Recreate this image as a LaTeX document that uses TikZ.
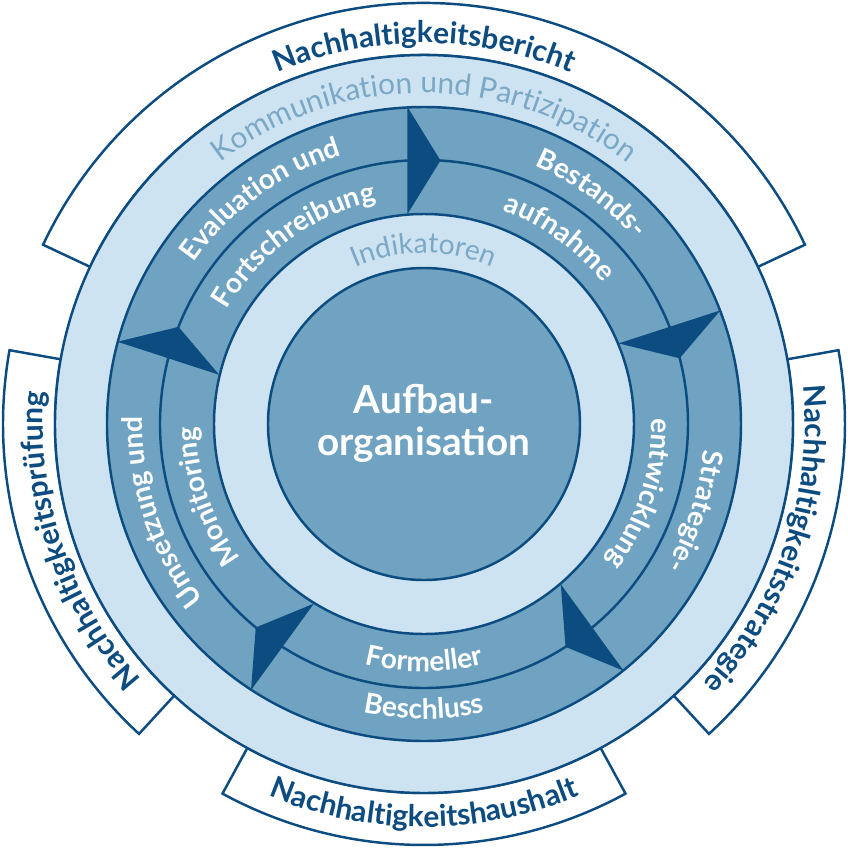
\documentclass[tikz,border=0pt]{standalone}
\usepackage{fontspec}
\setmainfont{Lato}
\usetikzlibrary{decorations.text}
\definecolor{ringblue}{HTML}{6FA3C1}
\definecolor{paleblue}{HTML}{CDE3F1}
\definecolor{deepblue}{HTML}{0D4C80}
\definecolor{greyblue}{HTML}{7BA8C6}
\newcommand\tablabel{\fontsize{17}{20}\selectfont\bfseries\color{deepblue}}
\newcommand\ringlabel{\fontsize{17}{20}\selectfont\color{greyblue}}
\newcommand\steplabel{\fontsize{16}{18}\selectfont\bfseries\color{white}}
\begin{document}
\begin{tikzpicture}[line width=1.4pt]
\tikzset{band/.style={draw=deepblue},
	tab/.style={draw=deepblue,fill=white},
	arrowfill/.style={fill=deepblue},
	ontext/.style={decorate,decoration={text along path,text align=center,text={#1}}},
	core/.style={align=center,text=white,font=\fontsize{22}{24}\selectfont\bfseries}}
\useasboundingbox (-8.48,-8.48) rectangle (8.48,8.48);
% outer tabs
\foreach \s/\e in {25.2/154.8,169.9/227.4,241.4/298.6,-47.4/10.1}
	\draw[tab] (\s:8.42) arc[start angle=\s,end angle=\e,radius=8.42]
		-- (\e:7.38) arc[start angle=\e,end angle=\s,radius=7.38] -- cycle;
% rings
\draw[band,fill=paleblue] (0,0) circle (7.38);
\draw[band,fill=ringblue] (0,0) circle (6.34);
\draw[band] (0,0) circle (5.28);
\draw[band,fill=paleblue] (0,0) circle (4.2);
\draw[band,fill=ringblue] (0,0) circle (3.12);
% arrows of the cycle
\foreach \a in {0,72,...,288}
	\fill[arrowfill,rotate=-\a] (-0.33,6.34) -- (0.33,5.27) -- (-0.33,4.2) -- cycle;
\node[core] (core) at (0,0.02) {Aufbau-\\organisation};
% labels on the tabs
\path[ontext={|\tablabel|Nachhaltigkeitsbericht}] (140:7.62) arc[start angle=140,end angle=40,radius=7.62];
\path[ontext={|\tablabel|Nachhaltigkeitsprüfung}] (248.6:7.62) arc[start angle=248.6,end angle=148.6,radius=7.62];
\path[ontext={|\tablabel|Nachhaltigkeitsstrategie}] (31.4:7.62) arc[start angle=31.4,end angle=-68.6,radius=7.62];
\path[ontext={|\tablabel|Nachhaltigkeitshaushalt}] (-140:8.06) arc[start angle=-140,end angle=-40,radius=8.06];
% ring labels
\path[ontext={|\ringlabel|Kommunikation und Partizipation}] (150:6.62) arc[start angle=150,end angle=30,radius=6.62];
\path[ontext={|\ringlabel\fontsize{16}{18}\selectfont|Indikatoren}] (140:3.42) arc[start angle=140,end angle=40,radius=3.42];
% steps
\path[ontext={|\steplabel|Evaluation und}] (170:5.62) arc[start angle=170,end angle=82,radius=5.62];
\path[ontext={|\steplabel|Fortschreibung}] (170:4.55) arc[start angle=170,end angle=82,radius=4.55];
\path[ontext={|\steplabel|Bestands-}] (98:5.62) arc[start angle=98,end angle=10,radius=5.62];
\path[ontext={|\steplabel|aufnahme}] (98:4.55) arc[start angle=98,end angle=10,radius=4.55];
\path[ontext={|\steplabel|Strategie-}] (26.2:5.62) arc[start angle=26.2,end angle=-61.8,radius=5.62];
\path[ontext={|\steplabel|entwicklung}] (26.2:4.55) arc[start angle=26.2,end angle=-61.8,radius=4.55];
\path[ontext={|\steplabel|Formeller}] (-134:4.95) arc[start angle=-134,end angle=-46,radius=4.95];
\path[ontext={|\steplabel|Beschluss}] (-134:5.9) arc[start angle=-134,end angle=-46,radius=5.9];
\path[ontext={|\steplabel|Umsetzung und}] (242.5:5.62) arc[start angle=242.5,end angle=154.5,radius=5.62];
\path[ontext={|\steplabel|Monitoring}] (242.5:4.55) arc[start angle=242.5,end angle=154.5,radius=4.55];
\end{tikzpicture}
\end{document}
